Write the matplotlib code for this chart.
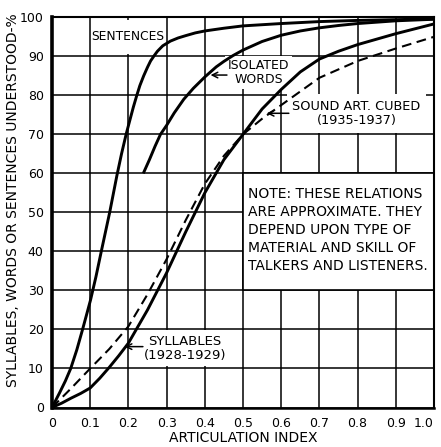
import matplotlib
matplotlib.use("Agg")
import matplotlib.pyplot as plt
from matplotlib.patches import Rectangle

# ---------------- data ----------------
sent_x = [0, 0.02, 0.035, 0.049, 0.065, 0.08, 0.09, 0.101, 0.115, 0.129, 0.14, 0.151,
          0.16, 0.17, 0.182, 0.194, 0.204, 0.213, 0.222, 0.23, 0.24, 0.25, 0.258,
          0.267, 0.276, 0.29, 0.31, 0.33, 0.35, 0.375, 0.4, 0.45, 0.5, 0.6, 0.7,
          0.8, 0.9, 1.0]
sent_y = [0, 3.8, 6.8, 10, 14.8, 20, 23.6, 27.6, 33.5, 40, 45, 50,
          54.5, 59.5, 65, 70, 73.7, 77, 80, 82.5, 85, 87.2, 88.8,
          90.1, 91.3, 92.7, 93.9, 94.7, 95.3, 96.0, 96.5, 97.2, 97.8, 98.4, 98.9,
          99.2, 99.4, 99.6]

words_x = [0.239, 0.255, 0.27, 0.284, 0.3, 0.32, 0.345, 0.37, 0.4, 0.43, 0.45, 0.474,
           0.5, 0.55, 0.6, 0.65, 0.7, 0.75, 0.8, 0.9, 1.0]
words_y = [60, 63.5, 67, 70, 72.3, 75.5, 79, 81.8, 84.7, 87.3, 88.7, 90.2,
           91.6, 93.8, 95.4, 96.5, 97.3, 97.9, 98.4, 99.1, 99.5]

syl_x = [0, 0.025, 0.05, 0.075, 0.1, 0.125, 0.15, 0.175, 0.2, 0.25, 0.3, 0.35, 0.4,
         0.45, 0.5, 0.55, 0.6, 0.65, 0.7, 0.75, 0.8, 0.9, 1.0]
syl_y = [0, 1.1, 2.4, 3.6, 5, 7.5, 10.3, 13.3, 16.5, 25, 34.5, 45, 55,
         63.5, 70, 76.5, 81.5, 86, 89.3, 91.3, 93, 95.8, 98.3]

cube_x = [0, 0.05, 0.1, 0.15, 0.2, 0.25, 0.3, 0.35, 0.4, 0.45, 0.5, 0.55, 0.6,
          0.65, 0.7, 0.8, 0.9, 1.0]
cube_y = [0, 4.9, 10, 15, 20.8, 29, 38, 48, 57.3, 64.5, 70, 74, 77.5,
          81, 84.5, 88.8, 92, 95]

x_ticks = [0, 0.1, 0.2, 0.3, 0.4, 0.5, 0.6, 0.7, 0.8, 0.9, 1.0]
x_labels = ["0", "0.1", "0.2", "0.3", "0.4", "0.5", "0.6", "0.7", "0.8", "0.9", "1.0"]
y_ticks = [0, 10, 20, 30, 40, 50, 60, 70, 80, 90, 100]
y_labels = ["0", "10", "20", "30", "40", "50", "60", "70", "80", "90", "100"]

note_text = ("NOTE: THESE RELATIONS\nARE APPROXIMATE. THEY\nDEPEND UPON TYPE OF\n"
             "MATERIAL AND SKILL OF\nTALKERS AND LISTENERS.")

# ---------------- figure ----------------
plt.rcParams['font.family'] = ['DejaVu Sans']
plt.rcParams['lines.scale_dashes'] = False

W, H = 441, 447
fig = plt.figure(figsize=(W / 100, H / 100), dpi=100)
ax = fig.add_axes([52 / W, 39.5 / H, 382 / W, 390.2 / H])
ax.set_xlim(0, 1.0)
ax.set_ylim(0, 100)

ax.set_xticks(x_ticks)
ax.set_xticklabels(x_labels, fontsize=9)
ax.set_yticks(y_ticks)
ax.set_yticklabels(y_labels, fontsize=9)
ax.tick_params(length=0)
ax.tick_params(axis='x', pad=7)
ax.tick_params(axis='y', pad=6)
ax.get_xticklabels()[-1].set_horizontalalignment('right')

ax.set_axisbelow(True)
ax.grid(True, color='black', linewidth=1.1)
for side, sp in ax.spines.items():
    sp.set_color('black')
    sp.set_linewidth(1.5)
ax.spines['left'].set_linewidth(2.6)
ax.spines['bottom'].set_linewidth(1.8)

# curves
ax.plot(sent_x, sent_y, color='black', lw=2.1, solid_capstyle='round',
        solid_joinstyle='round', zorder=3)
ax.plot(words_x, words_y, color='black', lw=2.1, solid_capstyle='butt',
        solid_joinstyle='round', zorder=3)
ax.plot(syl_x, syl_y, color='black', lw=2.1, solid_capstyle='round',
        solid_joinstyle='round', zorder=3)
ax.plot(cube_x, cube_y, color='black', lw=1.5, dashes=(7, 4), zorder=3)

# note box
ax.add_patch(Rectangle((0.5, 30), 0.5, 30, facecolor='white', edgecolor='black',
                       lw=1.2, zorder=1))
ax.text(0.512, 45.4, note_text, fontsize=10, ha='left', va='center',
        linespacing=1.36, zorder=4)

# label boxes (kept beneath the curves)
ax.add_patch(Rectangle((0.103, 90.6), 0.19, 8.8, facecolor='white',
                       edgecolor='none', zorder=1))
ax.text(0.102, 95.0, "SENTENCES", fontsize=8.8, ha='left', va='center', zorder=2)

ax.text(0.541, 85.8, "ISOLATED\nWORDS", fontsize=9, ha='center', va='center',
        linespacing=1.15, zorder=2,
        bbox=dict(facecolor='white', edgecolor='none', pad=2))
ax.annotate("", xy=(0.415, 85.2), xytext=(0.458, 85.2),
            arrowprops=dict(arrowstyle='->', lw=1.1, color='black',
                            shrinkA=0, shrinkB=0), zorder=4)

ax.text(0.797, 75.4, "SOUND ART. CUBED\n(1935-1937)", fontsize=9.3, ha='center',
        va='center', linespacing=1.15, zorder=2,
        bbox=dict(facecolor='white', edgecolor='none', pad=4))
ax.annotate("", xy=(0.562, 75.4), xytext=(0.62, 75.4),
            arrowprops=dict(arrowstyle='->', lw=1.1, color='black',
                            shrinkA=0, shrinkB=0), zorder=4)

ax.text(0.348, 15.2, "SYLLABLES\n(1928-1929)", fontsize=9.5, ha='center',
        va='center', linespacing=1.1, zorder=2,
        bbox=dict(facecolor='white', edgecolor='none', pad=3))
ax.annotate("", xy=(0.19, 15.6), xytext=(0.238, 15.6),
            arrowprops=dict(arrowstyle='->', lw=1.1, color='black',
                            shrinkA=0, shrinkB=0), zorder=4)

# axis titles
fig.text(13 / W, 1 - 200 / H, "SYLLABLES, WORDS OR SENTENCES UNDERSTOOD-%",
         rotation=90, ha='center', va='center', fontsize=10)
fig.text(243 / W, 1 - 438 / H, "ARTICULATION INDEX", ha='center', va='center',
         fontsize=10)

fig.savefig("out.png", dpi=100, facecolor='white')
